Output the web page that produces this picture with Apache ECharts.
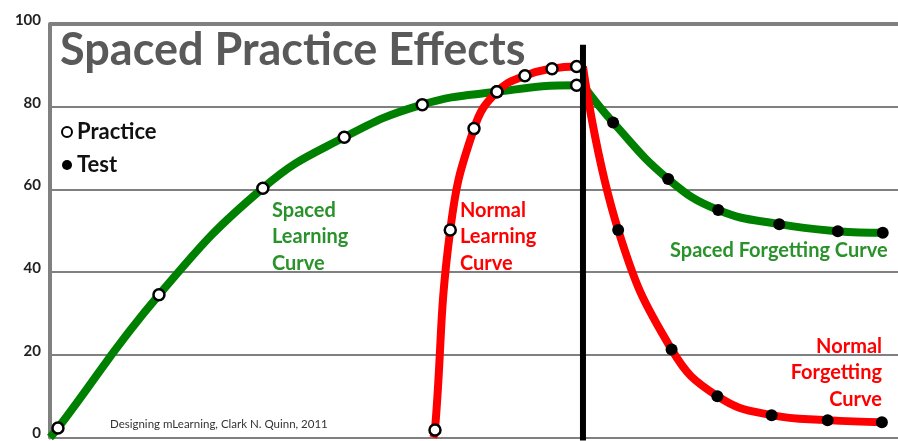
<!DOCTYPE html>
<html>
<head>
<meta charset="utf-8">
<script src="https://cdn.jsdelivr.net/npm/echarts@6/dist/echarts.min.js"></script>
<style>html,body{margin:0;padding:0;background:#fff}#c{width:898px;height:441px}</style>
</head>
<body>
<div id="c"></div>
<script>
// ---- data ----
const yTicks = [0, 20, 40, 60, 80, 100];
const testDayX = 62.85;          // time of the test (black bar)
const barTopY = 95;

const spacedStart = [0, 0];
const spacedPracticeX = [0.94, 12.85, 25.1, 34.7, 43.9, 52.7, 62.1];
const spacedPracticeY = [2.3, 34.5, 60.3, 72.6, 80.5, 83.6, 85.2];
const spacedTestX = [66.4, 72.9, 78.8, 86.0, 92.9, 98.2];
const spacedTestY = [76.2, 62.5, 55.0, 51.6, 49.9, 49.5];

const normalStart = [45.2, 0];
const normalPracticeX = [45.4, 47.2, 50.0, 52.7, 56.0, 59.2, 62.1];
const normalPracticeY = [1.8, 50.2, 74.7, 83.6, 87.5, 89.2, 89.7];
const normalTestX = [67.0, 73.3, 78.7, 85.1, 91.7, 98.1];
const normalTestY = [50.2, 21.3, 10.0, 5.4, 4.2, 3.7];

// ---- build ----
const zip = (xs, ys) => xs.map((x, i) => [x, ys[i]]);
const spacedPractice = zip(spacedPracticeX, spacedPracticeY);
const normalPractice = zip(normalPracticeX, normalPracticeY);
const spacedTest = zip(spacedTestX, spacedTestY);
const normalTest = zip(normalTestX, normalTestY);
const spacedEnd = [testDayX, spacedPracticeY[spacedPracticeY.length - 1]];
const normalEnd = [testDayX, normalPracticeY[normalPracticeY.length - 1]];

const GREEN = '#008000', RED = '#ff0000', TXTGREEN = '#2a922a';
const lineBase = { type: 'line', smooth: 0.45, showSymbol: false, symbol: 'none', silent: true };

const chart = echarts.init(document.getElementById('c'), null, { renderer: 'canvas' });
chart.setOption({
  animation: false,
  backgroundColor: '#fff',
  grid: { left: 50, right: 0, top: 24, bottom: 1.5 },
  xAxis: { type: 'value', min: 0, max: 100, show: false },
  yAxis: {
    type: 'value', min: 0, max: 100, interval: 20,
    axisLine: { show: true, lineStyle: { color: '#808080', width: 4 } },
    axisTick: { show: false },
    axisLabel: { color: '#222', fontSize: 15, fontWeight: 'bold', fontFamily: 'Lato', margin: 9,
      verticalAlign: 'bottom', lineHeight: 8,
      formatter: v => yTicks.includes(v) ? String(v) : '' },
    splitLine: { lineStyle: { color: '#808080', width: 2 } }
  },
  legend: {
    orient: 'vertical', left: 56, top: 116, itemGap: 11,
    itemWidth: 10, itemHeight: 10,
    data: ['Practice', 'Test'],
    textStyle: { fontSize: 22, fontFamily: 'Lato', fontWeight: 'bold', color: '#111', lineHeight: 22 }
  },
  graphic: [
    { type: 'text', left: 60, top: 28, style: { text: 'Spaced Practice Effects', fill: '#595959', font: 'bold 45px Lato' } },
    { type: 'text', left: 272, top: 197, style: { text: 'Spaced\nLearning\nCurve', fill: TXTGREEN, font: 'bold 20px Lato', lineHeight: 26.5 } },
    { type: 'text', left: 460, top: 197, style: { text: 'Normal\nLearning\nCurve', fill: RED, font: 'bold 20px Lato', lineHeight: 26.5 } },
    { type: 'text', left: 670, top: 241, style: { text: 'Spaced Forgetting Curve', fill: TXTGREEN, font: 'bold 20px Lato' } },
    { type: 'text', x: 882, y: 333, style: { text: 'Normal\nForgetting\nCurve', fill: RED, font: 'bold 20px Lato', lineHeight: 26.5, align: 'right', verticalAlign: 'top' } },
    { type: 'text', left: 110, top: 418, style: { text: 'Designing mLearning, Clark N. Quinn, 2011', fill: '#333', font: '11.5px Lato' } }
  ],
  series: [
    { type: 'line', name: 'frame', data: [[0, 100], [100, 100]], z: 1, symbol: 'none', silent: true,
      lineStyle: { color: '#808080', width: 4 } },
    { ...lineBase, name: 'spacedLearn', data: [spacedStart, ...spacedPractice, spacedEnd],
      lineStyle: { color: GREEN, width: 8 }, z: 2 },
    { ...lineBase, name: 'spacedForget', data: [spacedEnd, ...spacedTest],
      lineStyle: { color: GREEN, width: 8 }, z: 2 },
    { ...lineBase, name: 'normalLearn', data: [normalStart, ...normalPractice, normalEnd],
      lineStyle: { color: RED, width: 8 }, z: 3 },
    { ...lineBase, name: 'normalForget', data: [normalEnd, ...normalTest],
      lineStyle: { color: RED, width: 8 }, z: 3 },
    { type: 'line', name: 'bar', data: [[testDayX, -2], [testDayX, barTopY]], z: 4, symbol: 'none', silent: true,
      lineStyle: { color: '#000', width: 6 } },
    { type: 'scatter', name: 'Practice', data: [...spacedPractice, ...normalPractice], z: 5,
      symbol: 'circle', symbolSize: 11,
      itemStyle: { color: '#fff', borderColor: '#000', borderWidth: 2.5, opacity: 1 } },
    { type: 'scatter', name: 'Test', data: [...spacedTest, ...normalTest], z: 5,
      symbol: 'circle', symbolSize: 12,
      itemStyle: { color: '#000', opacity: 1 } }
  ]
});
</script>
</body>
</html>
